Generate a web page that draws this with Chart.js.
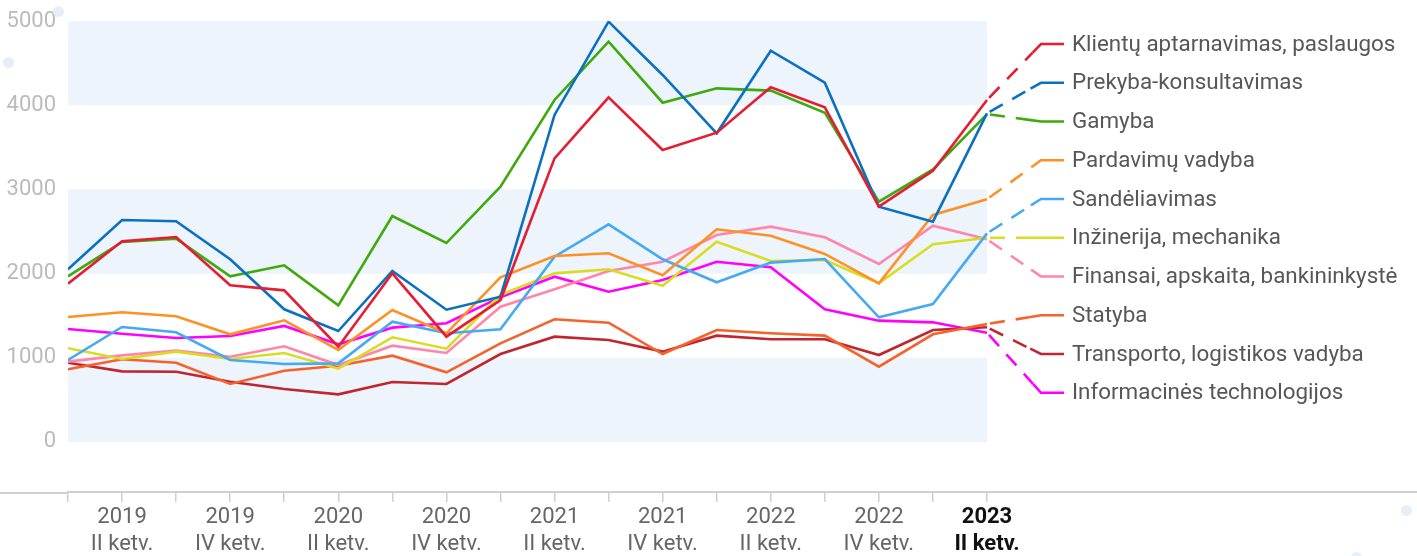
<!DOCTYPE html>
<html><head><meta charset="utf-8">
<script src="https://cdn.jsdelivr.net/npm/chart.js@4.4.0/dist/chart.umd.min.js"></script>
<style>
html,body{margin:0;padding:0;background:#fff;overflow:hidden}
#wrap{position:relative;width:1417px;height:556px}
canvas{display:block}
.dot{position:absolute;border-radius:50%;background:#e6eef8;width:11px;height:11px}
</style></head><body>
<div id="wrap"><canvas id="c" width="1417" height="556"></canvas>
<div class="dot" style="left:53px;top:6px"></div>
<div class="dot" style="left:3px;top:57px"></div>
<div class="dot" style="left:1401px;top:505px"></div>
<div class="dot" style="left:1351px;top:552px"></div>
</div>
<script>
// ---- DATA ----
const years    = ['2019','2019','2019','2019','2020','2020','2020','2020','2021','2021','2021','2021','2022','2022','2022','2022','2023','2023'];
const quarters = ['I','II','III','IV','I','II','III','IV','I','II','III','IV','I','II','III','IV','I','II'];
const seriesNames = [
  'Klientų aptarnavimas, paslaugos',
  'Prekyba-konsultavimas',
  'Gamyba',
  'Pardavimų vadyba',
  'Sandėliavimas',
  'Inžinerija, mechanika',
  'Finansai, apskaita, bankininkystė',
  'Statyba',
  'Transporto, logistikos vadyba',
  'Informacinės technologijos'
];
const klientai     = [1880,2383,2435,1861,1801,1132,2003,1251,1686,3369,4093,3468,3674,4212,3975,2795,3222,4062];
const prekyba      = [2051,2636,2621,2170,1576,1318,2031,1571,1726,3884,4992,4359,3666,4647,4268,2795,2617,3903];
const gamyba       = [1968,2375,2415,1968,2098,1623,2684,2363,3032,4062,4755,4030,4200,4173,3911,2854,3238,3895];
const pardavimai   = [1485,1540,1493,1279,1445,1093,1568,1291,1956,2209,2241,1980,2526,2450,2233,1885,2696,2882];
const sandeliavimas= [974,1366,1303,974,926,934,1429,1291,1338,2201,2585,2170,1897,2130,2173,1481,1639,2478];
const inzinerija   = [1113,986,1073,986,1057,871,1243,1108,1746,2003,2051,1856,2379,2150,2162,1885,2348,2426];
const finansai     = [954,1029,1085,1013,1136,914,1144,1057,1607,1813,2031,2141,2458,2557,2431,2114,2569,2407];
const statyba      = [863,982,942,689,847,906,1025,828,1172,1457,1417,1045,1330,1291,1263,894,1279,1401];
const transportas  = [942,839,835,716,629,566,713,689,1045,1251,1211,1073,1263,1220,1220,1033,1330,1362];
const it           = [1342,1286,1235,1259,1378,1160,1358,1410,1720,1963,1785,1924,2141,2075,1576,1441,1421,1298];
const yTickValues = [0,1000,2000,3000,4000,5000];
const bands = [[0,1000],[2000,3000],[4000,5000]];

const seriesValues = [klientai,prekyba,gamyba,pardavimai,sandeliavimas,inzinerija,finansai,statyba,transportas,it];
const colors = ['#e41d33','#0a70c2','#3fa90d','#fd9126','#45aaf2','#d9dd22','#ff85ab','#f6622b','#c0262d','#ff00ff'];
const lastIdx = years.length - 1;

Chart.defaults.font.family = 'Roboto, "Noto Sans", sans-serif';

const bandPlugin = {
  id: 'bands',
  beforeDatasetsDraw(chart) {
    const {ctx, scales:{x, y}} = chart;
    const x0 = x.getPixelForValue(0), x1 = x.getPixelForValue(lastIdx);
    ctx.save();
    ctx.fillStyle = '#edf4fb';
    bands.forEach(([a,b]) => {
      const ya = y.getPixelForValue(a), yb = y.getPixelForValue(b);
      ctx.fillRect(x0, yb, x1 - x0, ya - yb);
    });
    ctx.restore();
  }
};

const axisExtend = {
  id: 'axisExtend',
  afterDraw(chart) {
    const {ctx, chartArea, scales:{x}} = chart;
    ctx.save();
    ctx.strokeStyle = '#d0d0d0';
    ctx.lineWidth = 2;
    ctx.beginPath();
    ctx.moveTo(0, x.top + 1);
    ctx.lineTo(chartArea.left, x.top + 1);
    ctx.stroke();
    ctx.restore();
  }
};

const labelLegend = {
  id: 'labelLegend',
  afterDatasetsDraw(chart) {
    const {ctx} = chart;
    ctx.save();
    chart.data.datasets.forEach((ds, i) => {
      const meta = chart.getDatasetMeta(i);
      const pt = meta.data[meta.data.length - 1];
      const x0 = pt.x, y0 = pt.y;
      const yL = 44 + i * 38.75;
      const x1 = 1041, x2 = 1064;
      const dx = x1 - x0, dy = yL - y0;
      const len = Math.hypot(dx, dy);
      const solidPart = Math.min(12, len);
      const xm = x1 - dx / len * solidPart, ym = yL - dy / len * solidPart;
      ctx.strokeStyle = ds.borderColor;
      ctx.lineWidth = 2.6;
      ctx.lineCap = 'butt';
      ctx.setLineDash([15, 11]);
      ctx.lineDashOffset = -3;
      ctx.beginPath();
      ctx.moveTo(x0, y0);
      ctx.lineTo(xm, ym);
      ctx.stroke();
      ctx.setLineDash([]);
      ctx.beginPath();
      ctx.moveTo(xm, ym);
      ctx.lineTo(x1, yL);
      ctx.lineTo(x2, yL);
      ctx.stroke();
      ctx.fillStyle = '#575757';
      ctx.font = '22.4px Roboto, "Noto Sans", sans-serif';
      ctx.textBaseline = 'middle';
      ctx.textAlign = 'left';
      ctx.fillText(ds.label, 1072, yL + 1);
    });
    ctx.restore();
  }
};

new Chart(document.getElementById('c'), {
  type: 'line',
  data: {
    datasets: seriesNames.map((name, i) => ({
      label: name,
      data: seriesValues[i].map((v, j) => ({x: j, y: v})),
      borderColor: colors[i],
      backgroundColor: colors[i],
      borderWidth: 2.6,
      pointRadius: 0,
      tension: 0,
      fill: false
    }))
  },
  options: {
    responsive: false,
    animation: false,
    devicePixelRatio: 1,
    layout: {padding: {top: 21, left: 0, right: 0, bottom: 0}},
    plugins: {legend: {display: false}, tooltip: {enabled: false}},
    scales: {
      x: {
        type: 'linear',
        min: 0,
        max: 17 * 1349 / 919,
        afterBuildTicks(scale) { scale.ticks = years.map((_, i) => ({value: i})); },
        afterFit(scale) { scale.height = 64; scale.paddingLeft = 0; scale.paddingRight = 0; },
        grid: {display: true, drawOnChartArea: false, drawTicks: true, tickLength: 10, color: '#cfcfcf', lineWidth: 1.5},
        border: {display: true, color: '#d0d0d0', width: 2},
        ticks: {
          autoSkip: false,
          maxRotation: 0,
          minRotation: 0,
          padding: 2,
          color: (c) => c.tick && c.tick.value === lastIdx ? '#111' : '#666',
          font: (c) => ({size: 22, weight: c.tick && c.tick.value === lastIdx ? 'bold' : 'normal', lineHeight: 1.22}),
          callback: (v) => (v % 2 === 1 && v <= lastIdx) ? [years[v], quarters[v] + ' ketv.'] : ''
        }
      },
      y: {
        type: 'linear',
        min: -594,
        max: 5000,
        afterBuildTicks(scale) { scale.ticks = yTickValues.map(v => ({value: v})); },
        afterFit(scale) { scale.width = 68; scale.paddingTop = 0; scale.paddingBottom = 0; },
        grid: {display: false, drawTicks: false},
        border: {display: false},
        ticks: {color: '#bbbbbb', font: {size: 22}, padding: 12, callback: (v) => String(v)}
      }
    }
  },
  plugins: [bandPlugin, axisExtend, labelLegend]
});
</script>
</body></html>
